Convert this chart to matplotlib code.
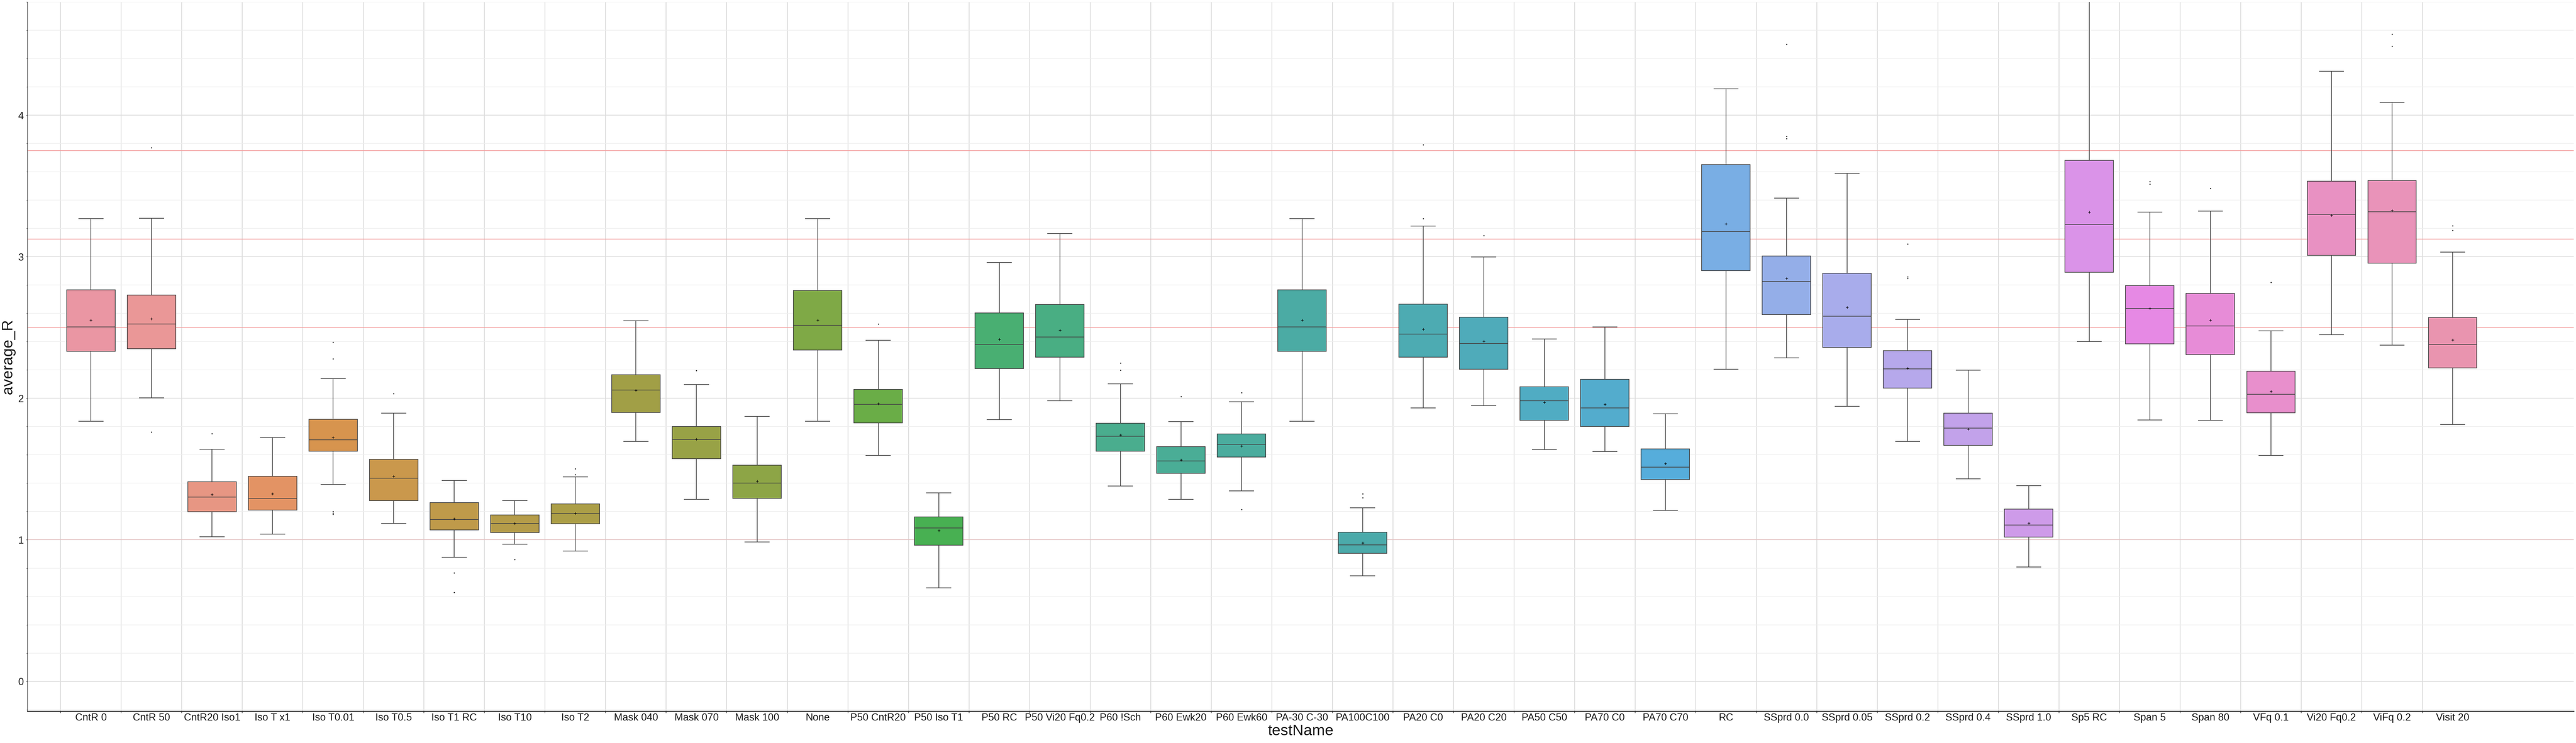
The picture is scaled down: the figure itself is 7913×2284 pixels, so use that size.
import colorsys
import numpy as np
import matplotlib
matplotlib.use("Agg")
import matplotlib.pyplot as plt
from matplotlib.ticker import MultipleLocator, FixedLocator
import seaborn as sns

categories = ["CntR 0", "CntR 50", "CntR20 Iso1", "Iso T x1", "Iso T0.01", "Iso T0.5",
              "Iso T1 RC", "Iso T10", "Iso T2", "Mask 040", "Mask 070", "Mask 100", "None",
              "P50 CntR20", "P50 Iso T1", "P50 RC", "P50 Vi20 Fq0.2", "P60 !Sch", "P60 Ewk20",
              "P60 Ewk60", "PA-30 C-30", "PA100C100", "PA20 C0", "PA20 C20", "PA50 C50",
              "PA70 C0", "PA70 C70", "RC", "SSprd 0.0", "SSprd 0.05", "SSprd 0.2", "SSprd 0.4",
              "SSprd 1.0", "Sp5 RC", "Span 5", "Span 80", "VFq 0.1", "Vi20 Fq0.2", "ViFq 0.2",
              "Visit 20"]

whislo = [1.838, 2.004, 1.022, 1.041, 1.392, 1.116, 0.876, 0.970, 0.920, 1.695,
          1.287, 0.986, 1.838, 1.596, 0.661, 1.849, 1.982, 1.380, 1.287, 1.347,
          1.838, 0.746, 1.932, 1.948, 1.637, 1.623, 1.207, 2.205, 2.285, 1.943,
          1.695, 1.430, 0.807, 2.401, 1.846, 1.844, 1.596, 2.450, 2.376, 1.814]
q1 = [2.332, 2.351, 1.199, 1.210, 1.626, 1.278, 1.069, 1.052, 1.113, 1.899,
      1.573, 1.292, 2.340, 1.827, 0.961, 2.210, 2.290, 1.626, 1.471, 1.585,
      2.332, 0.904, 2.290, 2.205, 1.844, 1.800, 1.427, 2.902, 2.591, 2.359,
      2.073, 1.667, 1.019, 2.891, 2.384, 2.309, 1.897, 3.009, 2.955, 2.215]
median = [2.505, 2.525, 1.303, 1.292, 1.706, 1.436, 1.143, 1.116, 1.187, 2.059,
          1.709, 1.400, 2.516, 1.957, 1.085, 2.379, 2.434, 1.731, 1.557, 1.675,
          2.505, 0.964, 2.453, 2.387, 1.982, 1.932, 1.513, 3.178, 2.825, 2.580,
          2.208, 1.789, 1.105, 3.228, 2.635, 2.510, 2.028, 3.300, 3.317, 2.379]
q3 = [2.765, 2.729, 1.411, 1.449, 1.852, 1.568, 1.262, 1.176, 1.254, 2.166,
      1.800, 1.527, 2.762, 2.064, 1.163, 2.602, 2.663, 1.824, 1.659, 1.747,
      2.765, 1.055, 2.665, 2.574, 2.081, 2.133, 1.642, 3.652, 3.004, 2.883,
      2.337, 1.896, 1.218, 3.680, 2.795, 2.741, 2.192, 3.534, 3.538, 2.570]
whishi = [3.269, 3.272, 1.640, 1.722, 2.139, 1.896, 1.419, 1.276, 1.444, 2.547,
          2.097, 1.871, 3.269, 2.409, 1.331, 2.960, 3.164, 2.103, 1.835, 1.976,
          3.269, 1.226, 3.217, 2.999, 2.420, 2.503, 1.891, 4.187, 3.415, 3.589,
          2.558, 2.199, 1.383, 5.100, 3.316, 3.323, 2.476, 4.311, 4.090, 3.032]
means = [2.552, 2.561, 1.320, 1.325, 1.722, 1.449, 1.149, 1.116, 1.187, 2.056,
         1.711, 1.414, 2.552, 1.962, 1.066, 2.417, 2.481, 1.742, 1.565, 1.664,
         2.552, 0.978, 2.489, 2.403, 1.971, 1.957, 1.540, 3.233, 2.847, 2.643,
         2.213, 1.783, 1.119, 3.316, 2.635, 2.553, 2.048, 3.293, 3.327, 2.413]
outliers = [[], [3.771, 1.761], [1.750], [], [2.395, 2.279, 1.20, 1.19, 1.18], [2.034],
            [0.766, 0.628], [0.862], [1.502, 1.460], [], [2.197], [], [], [2.525], [],
            [], [], [2.249, 2.199], [2.012], [2.039, 1.215], [], [1.325, 1.298],
            [3.790, 3.269], [3.151], [], [], [], [], [4.501, 3.851, 3.835], [],
            [3.090, 2.858, 2.847], [], [], [], [3.531, 3.514], [3.484], [2.818], [],
            [4.572, 4.488], [3.220, 3.186]]
ref_lines = [2.5, 3.125, 3.75]
base_line = 1.0

plt.rcParams['font.family'] = ['Liberation Sans', 'DejaVu Sans']

W, H, DPI = 7913, 2284, 100
fig = plt.figure(figsize=(W / DPI, H / DPI), dpi=DPI)
ax = fig.add_axes([84 / W, 1 - 2186 / H, (7906 - 84) / W, (2186 - 6) / H])

n = len(categories)
pal = sns.husl_palette(n, h=0.01, s=0.9, l=0.7)
pal = [sns.desaturate(c, 0.75) for c in pal]
lum = min(colorsys.rgb_to_hls(*c)[1] for c in pal) * 0.6
gray = matplotlib.colors.rgb2hex((lum, lum, lum))

stats = []
for i in range(n):
    stats.append(dict(label=categories[i], whislo=whislo[i], q1=q1[i], med=median[i],
                      q3=q3[i], whishi=whishi[i], mean=means[i], fliers=outliers[i]))

lw = 1.5
bp = ax.bxp(stats, positions=np.arange(n), widths=0.8, patch_artist=True,
            showmeans=True, manage_ticks=False,
            boxprops=dict(edgecolor=gray, linewidth=lw),
            whiskerprops=dict(color=gray, linewidth=lw),
            capprops=dict(color=gray, linewidth=lw),
            medianprops=dict(color=gray, linewidth=lw),
            meanprops=dict(marker='+', markeredgecolor='black', markersize=6,
                           markeredgewidth=1.0, linestyle='none'),
            flierprops=dict(marker='o', markersize=1.6, markerfacecolor='#222222',
                            markeredgecolor='#222222', linestyle='none'))
for patch, c in zip(bp['boxes'], pal):
    patch.set_facecolor(c)
for k in ['boxes', 'whiskers', 'caps', 'medians', 'means', 'fliers']:
    for a in bp[k]:
        a.set_zorder(3)

for y in ref_lines:
    ax.axhline(y, color='#f3a0a0', linewidth=1.6, zorder=1.5)
ax.axhline(base_line, color='#e6bcbc', linewidth=1.2, zorder=1.5)

ax.set_xlim(-1.05, 41.0)
ax.set_ylim(-0.21, 4.80)

ax.set_xticks(np.arange(n))
ax.set_xticklabels(categories, fontsize=22.5, color='#1a1a1a')
ax.xaxis.set_minor_locator(FixedLocator(np.arange(-0.5, n - 1, 1.0)))
ax.tick_params(axis='x', which='major', length=0, pad=4)
ax.tick_params(axis='x', which='minor', length=4, width=1.2, color='#333333')

ax.set_yticks([0, 1, 2, 3, 4])
ax.yaxis.set_minor_locator(MultipleLocator(0.2))
ax.tick_params(axis='y', which='major', length=3, width=1.0, labelsize=22.5,
               labelcolor='#1a1a1a', color='#333333', pad=5)
ax.tick_params(axis='y', which='minor', length=2, width=1.0, color='#333333')

ax.set_axisbelow(True)
ax.xaxis.grid(True, which='minor', color='#d9d9d9', linewidth=1.6)
ax.xaxis.grid(False, which='major')
ax.yaxis.grid(True, which='major', color='#dcdcdc', linewidth=1.6)
ax.yaxis.grid(True, which='minor', color='#eeeeee', linewidth=1.3)

for s in ['top', 'right']:
    ax.spines[s].set_visible(False)
ax.spines['left'].set_color('#222222')
ax.spines['left'].set_linewidth(1.0)
ax.spines['bottom'].set_color('#2b2b2b')
ax.spines['bottom'].set_linewidth(2.2)

ax.set_xlabel('testName', fontsize=34, color='#1a1a1a', labelpad=3)
ax.set_ylabel('average_R', fontsize=34, color='#1a1a1a', labelpad=6)

fig.savefig('out.png', dpi=DPI, facecolor='white')
